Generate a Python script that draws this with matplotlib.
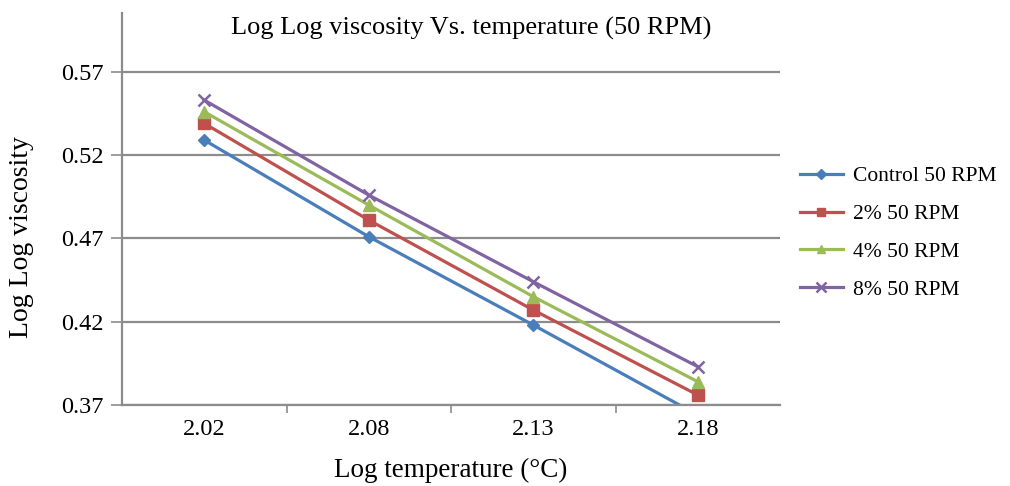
import matplotlib
matplotlib.use('Agg')
import matplotlib.pyplot as plt

# ========== Data ==========
categories = ['2.02', '2.08', '2.13', '2.18']
control = [0.529, 0.471, 0.418, 0.364]
pct2 = [0.539, 0.481, 0.427, 0.376]
pct4 = [0.546, 0.490, 0.435, 0.384]
pct8 = [0.553, 0.496, 0.444, 0.393]
series_labels = ['Control 50 RPM', '2% 50 RPM', '4% 50 RPM', '8% 50 RPM']
yticks = [0.37, 0.42, 0.47, 0.52, 0.57]

plt.rcParams.update({
    'font.family': 'Liberation Serif',
    'font.size': 17,
})

styles = [
    {'color': '#4A7EBB', 'marker': 'D', 'ms': 6.5},
    {'color': '#C0504D', 'marker': 's', 'ms': 8},
    {'color': '#9BBB59', 'marker': '^', 'ms': 8.5},
    {'color': '#8064A2', 'marker': 'x', 'ms': 9},
]

fig = plt.figure(figsize=(10.10, 4.86), dpi=100)
ax = fig.add_axes([0.1208, 0.1667, 0.6515, 0.8066])

x = [i + 0.5 for i in range(len(categories))]
for vals, lab, st in zip([control, pct2, pct4, pct8], series_labels, styles):
    ax.plot(x, vals, color=st['color'], marker=st['marker'], markersize=st['ms'],
            markeredgewidth=1.8 if st['marker'] == 'x' else 1,
            linewidth=2.3, label=lab)

ax.set_xlim(0, len(categories))
ax.set_ylim(0.37, 0.6053)
ax.set_yticks(yticks)
ax.set_yticklabels([f'{v:.2f}' for v in yticks])
ax.set_xticks(x)
ax.set_xticklabels(categories)
ax.set_xticks(range(1, len(categories)), minor=True)
ax.tick_params(axis='x', which='major', length=0, pad=10, labelsize=17.5)
ax.tick_params(axis='x', which='minor', length=6, width=1.2, color='#8c8c8c', direction='out')
ax.tick_params(axis='y', length=8, width=1.2, color='#8c8c8c', pad=5, labelsize=17.5)

ax.grid(axis='y', color='#8c8c8c', linewidth=1.6)
ax.set_axisbelow(True)
for s in ['top', 'right']:
    ax.spines[s].set_visible(False)
for s in ['left', 'bottom']:
    ax.spines[s].set_color('#8c8c8c')
    ax.spines[s].set_linewidth(1.6)

ax.set_xlabel('Log temperature (°C)', fontsize=19.5, labelpad=13)
fig.text(22 / 1010, 1 - 237 / 486, 'Log Log viscosity', rotation=90,
         ha='center', va='center', fontsize=20)
fig.text(0.467, 0.942, 'Log Log viscosity Vs. temperature (50 RPM)', ha='center', va='center',
         fontsize=19)

fig.legend(loc='center left', bbox_to_anchor=(0.792, 1 - 233 / 486), frameon=False,
           fontsize=15.5, handlelength=2.0, labelspacing=0.83, handletextpad=0.45,
           borderaxespad=0, borderpad=0, markerscale=0.75)

fig.savefig('out.png', dpi=100)
